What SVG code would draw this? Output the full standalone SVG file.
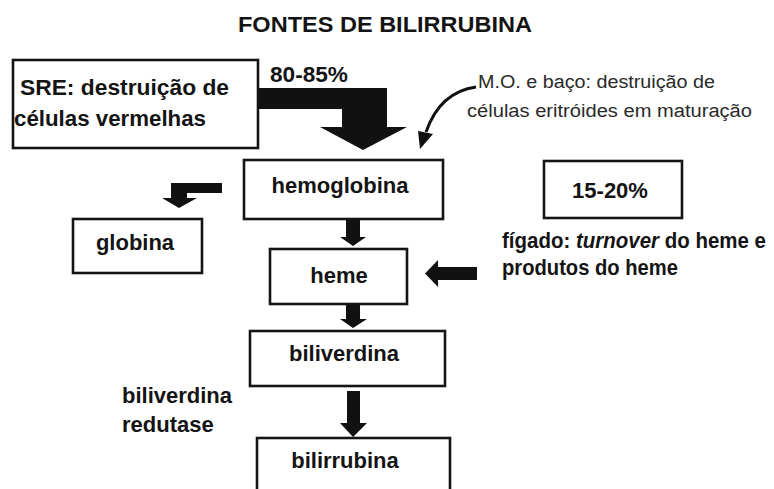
<svg xmlns="http://www.w3.org/2000/svg" width="774" height="489" viewBox="0 0 774 489">
<style>
.box{fill:#fff;stroke:#141414;stroke-width:2.6}
.t{font-family:"Liberation Sans",Arial,sans-serif;font-weight:bold;fill:#141414;font-size:22px}
.r{font-family:"Liberation Sans",Arial,sans-serif;fill:#2a2a2a;font-size:18px}
.a{fill:#111}
</style>
<rect width="774" height="489" fill="#fff"/>
<text class="t" x="385" y="32" text-anchor="middle" font-size="24" textLength="294" lengthAdjust="spacingAndGlyphs">FONTES DE BILIRRUBINA</text>

<g id="connectors">
<path class="a" d="M257,88 L387,88 L387,127 L407,127 L363,150 L320,127 L342,127 L342,109 L257,109 z"/>
<path d="M476,87 Q440,92 426,132" fill="none" stroke="#111" stroke-width="3"/>
<path class="a" d="M418,131 L433,134 L420,149 z"/>
<path class="a" d="M222,183 L222,193 L187,193 L187,198 L197,198 L179,208 L162,198 L171,198 L171,183 z"/>
<path class="a" d="M346,220 L360,220 L360,237 L366,237 L353,246 L340,237 L346,237 z"/>
<path class="a" d="M346,304 L360,304 L360,319 L367,319 L353,328 L340,319 L346,319 z"/>
<path class="a" d="M347,391 L360,391 L360,423 L367,423 L353,437 L340,423 L347,423 z"/>
<path class="a" d="M477,267 L477,280 L438,280 L438,287 L425,273.5 L438,260 L438,267 z"/>
</g>

<g id="sre">
<rect class="box" x="13" y="60" width="245" height="88"/>
<text class="t" x="20" y="95" font-size="22.5" textLength="209" lengthAdjust="spacingAndGlyphs">SRE: destruição de</text>
<text class="t" x="14" y="126" font-size="22.5" textLength="192" lengthAdjust="spacingAndGlyphs">células vermelhas</text>
</g>
<g id="pct8085"><text class="t" x="270" y="82" font-size="22" textLength="78" lengthAdjust="spacingAndGlyphs">80-85%</text></g>
<g id="mo">
<text class="r" x="478" y="88" textLength="237" lengthAdjust="spacingAndGlyphs">M.O. e baço: destruição de</text>
<text class="r" x="467" y="117" textLength="285" lengthAdjust="spacingAndGlyphs">células eritróides em maturação</text>
</g>
<g id="hemoglobina">
<rect class="box" x="244" y="160" width="199" height="59"/>
<text class="t" x="340" y="193" text-anchor="middle">hemoglobina</text>
</g>
<g id="pct1520">
<rect class="box" x="544" y="161" width="138" height="57"/>
<text class="t" x="610" y="198" text-anchor="middle" font-size="23.5">15-20%</text>
</g>
<g id="globina">
<rect class="box" x="73" y="219" width="129" height="54"/>
<text class="t" x="135" y="250" text-anchor="middle">globina</text>
</g>
<g id="heme">
<rect class="box" x="270" y="249" width="137" height="55"/>
<text class="t" x="339" y="283" text-anchor="middle">heme</text>
</g>
<g id="figado">
<text class="t" x="502" y="248" textLength="264" lengthAdjust="spacingAndGlyphs">fígado: <tspan font-style="italic">turnover</tspan> do heme e</text>
<text class="t" x="502" y="275" textLength="176" lengthAdjust="spacingAndGlyphs">produtos do heme</text>
</g>
<g id="biliverdina">
<rect class="box" x="250" y="331" width="195" height="55"/>
<text class="t" x="344" y="361" text-anchor="middle">biliverdina</text>
</g>
<g id="redutase">
<text class="t" x="122" y="403">biliverdina</text>
<text class="t" x="122" y="432">redutase</text>
</g>
<g id="bilirrubina">
<rect class="box" x="257" y="438" width="193" height="60"/>
<text class="t" x="345" y="468" text-anchor="middle">bilirrubina</text>
</g>
</svg>
